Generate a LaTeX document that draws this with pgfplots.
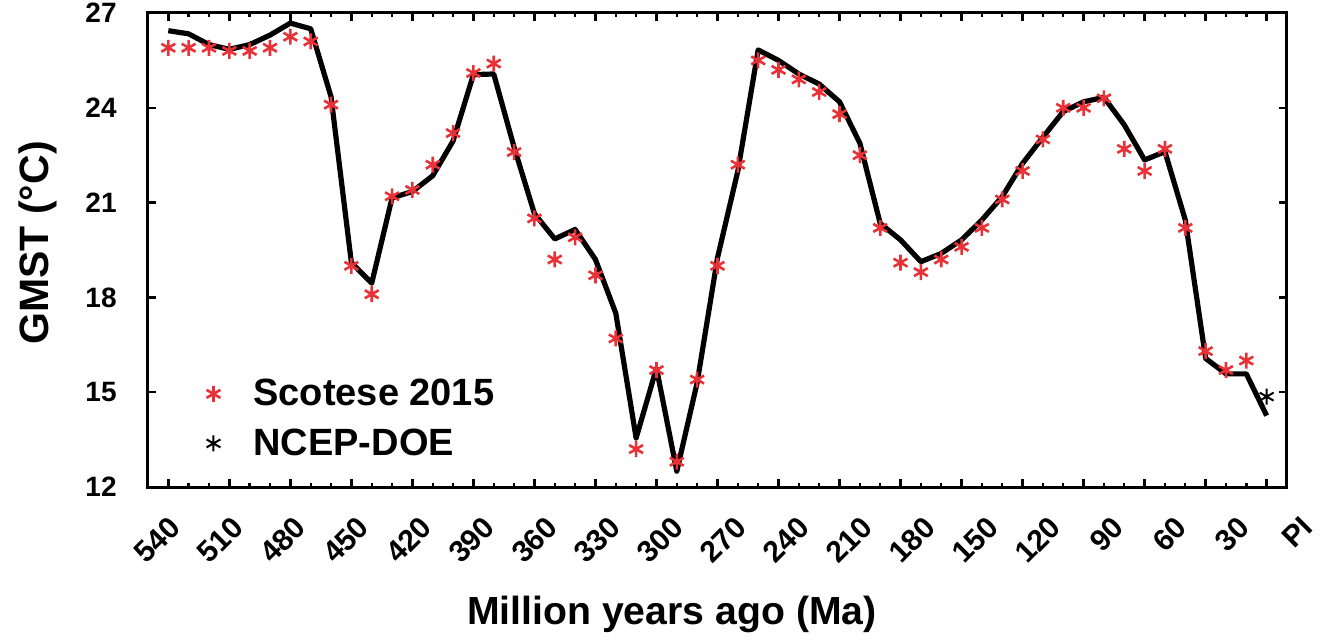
\documentclass[border=0pt]{standalone}
\usepackage{fontspec}
\setmainfont{Liberation Sans}
\usepackage{pgfplots}
\pgfplotsset{compat=1.18}
\definecolor{sred}{RGB}{232,50,56}

\pgfplotstableread{
age t
540 26.44
530 26.34
520 26.00
510 25.85
500 26.00
490 26.30
480 26.68
470 26.50
460 24.35
450 19.10
440 18.45
430 21.15
420 21.35
410 21.85
400 22.95
390 25.05
380 25.07
370 22.75
360 20.65
350 19.85
340 20.15
330 19.20
320 17.50
310 13.55
300 15.76
290 12.50
280 15.30
270 19.25
260 22.00
250 25.83
240 25.50
230 25.07
220 24.75
210 24.19
200 22.88
190 20.34
180 19.82
170 19.13
160 19.39
150 19.82
140 20.45
130 21.19
120 22.24
110 23.07
100 23.88
90 24.19
80 24.33
70 23.46
60 22.35
50 22.61
40 20.45
30 16.07
20 15.58
10 15.58
0 14.26
}\modelline

\pgfplotstableread{
age t
540 25.90
530 25.90
520 25.90
510 25.80
500 25.80
490 25.90
480 26.25
470 26.10
460 24.10
450 19.00
440 18.10
430 21.20
420 21.40
410 22.20
400 23.20
390 25.10
380 25.40
370 22.60
360 20.50
350 19.20
340 19.90
330 18.70
320 16.70
310 13.20
300 15.70
290 12.80
280 15.40
270 19.00
260 22.20
250 25.50
240 25.20
230 24.90
220 24.50
210 23.80
200 22.50
190 20.20
180 19.10
170 18.80
160 19.20
150 19.60
140 20.20
130 21.10
120 22.00
110 23.00
100 24.00
90 24.00
80 24.30
70 22.70
60 22.00
50 22.70
40 20.20
30 16.30
20 15.70
10 16.00
}\scotese

\pgfplotstableread{
age t
0 14.86
}\ncep

\begin{document}
\begin{tikzpicture}
\begin{axis}[
  name=ax, at={(0,0)}, anchor=south west,
  scale only axis, width=569.5pt, height=237pt,
  x dir=reverse, xmin=-10, xmax=550, ymin=12, ymax=27,
  xtick={540,510,480,450,420,390,360,330,300,270,240,210,180,150,120,90,60,30,0},
  xticklabels={540,510,480,450,420,390,360,330,300,270,240,210,180,150,120,90,60,30,PI},
  minor x tick num=2,
  ytick={12,15,18,21,24,27},
  yticklabels={12,15,18,21,24,27},
  tick align=inside,
  major tick length=3.8pt, minor tick length=2.2pt,
  every tick/.style={black, line width=1.2pt},
  axis line style={line width=1.5pt},
  xticklabel style={font=\fontsize{15}{17}\selectfont\bfseries, anchor=east, inner sep=0pt,
    yshift=-17.5pt, xshift={3.3pt+0.95pt*\ticknum}, rotate=45},
  yticklabel style={font=\fontsize{14}{16}\selectfont\bfseries, anchor=east, inner sep=0pt, xshift=-15.5pt},
  xlabel={Million years ago (Ma)},
  xlabel style={at={(axis description cs:0.46,-0.291)}, anchor=base, font=\fontsize{19.6}{23}\selectfont\bfseries},
  ylabel={GMST (°C)},
  ylabel style={at={(axis description cs:-0.0966,0.515)}, anchor=center, font=\fontsize{20.5}{24}\selectfont\bfseries},
  legend style={draw=none, fill=none, at={(axis description cs:0.0458,0.0431)}, anchor=south west,
    font=\fontsize{19}{22}\selectfont\bfseries, row sep=6pt, column sep=14.5pt},
  legend cell align=left,
]
\addplot[black, line width=2.6pt, line join=round, forget plot] table[x=age, y=t] {\modelline};
\addplot[only marks, mark=asterisk, mark size=4pt, sred, mark options={line width=1.3pt}] table[x=age, y=t] {\scotese};
\addlegendentry{Scotese 2015}
\addplot[only marks, mark=asterisk, mark size=4pt, black, mark options={line width=1pt}] table[x=age, y=t] {\ncep};
\addlegendentry{NCEP-DOE}
\end{axis}
\pgfresetboundingbox
\path (-74pt,-77.5pt) rectangle (586pt,243.5pt);
\end{tikzpicture}
\end{document}
